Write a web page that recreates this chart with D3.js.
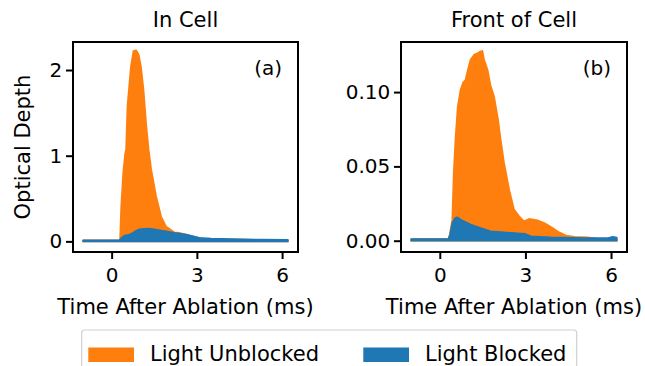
<html>
  <head>
    <meta charset="utf-8">
    <title>Optical Depth</title>
    <script src="https://d3js.org/d3.v7.min.js" charset="utf-8"></script>
    <style>
      body { margin: 0; background: #fff; }
      text { font-family: "DejaVu Sans", sans-serif; fill: #000; }
    </style>
  </head>
  <body>
    <script>
      // (a) In Cell - times in ms, optical depth
      var timeUnblockedA = [-1.0, 0.0, 0.28, 0.30, 0.34, 0.41, 0.48, 0.51, 0.56, 0.68, 0.77, 0.86, 0.95, 1.03, 1.12, 1.21, 1.30, 1.39, 1.56, 1.74, 1.91, 2.21, 2.38, 2.62, 3.0, 3.2, 3.6, 4.2, 5.0, 5.6, 6.2];
      var unblockedA = [0.012, 0.012, 0.015, 0.03, 0.41, 0.80, 1.03, 1.07, 1.58, 2.04, 2.22, 2.23, 2.18, 2.04, 1.77, 1.38, 1.07, 0.84, 0.53, 0.29, 0.175, 0.105, 0.098, 0.078, 0.045, 0.03, 0.025, 0.022, 0.018, 0.016, 0.014];
      var timeBlockedA = [-1.0, 0.0, 0.28, 0.35, 0.45, 0.60, 0.74, 0.85, 0.98, 1.15, 1.33, 1.60, 1.91, 2.20, 2.62, 3.09, 3.50, 4.20, 5.20, 6.2];
      var blockedA = [0.01, 0.01, 0.012, 0.04, 0.066, 0.075, 0.098, 0.12, 0.14, 0.147, 0.15, 0.135, 0.117, 0.10, 0.08, 0.04, 0.032, 0.027, 0.02, 0.016];

      // (b) Front of Cell
      var timeUnblockedB = [-1.0, 0.0, 0.30, 0.35, 0.44, 0.49, 0.55, 0.63, 0.73, 0.82, 0.90, 1.00, 1.08, 1.20, 1.32, 1.43, 1.47, 1.49, 1.55, 1.67, 1.78, 1.90, 2.04, 2.13, 2.25, 2.43, 2.60, 2.78, 2.95, 3.13, 3.42, 3.66, 3.95, 4.18, 4.42, 4.72, 5.18, 5.65, 6.2];
      var unblockedB = [0.001, 0.001, 0.001, 0.004, 0.014, 0.0455, 0.068, 0.090, 0.1016, 0.1065, 0.108, 0.116, 0.1218, 0.125, 0.126, 0.1274, 0.1262, 0.1278, 0.1218, 0.115, 0.104, 0.097, 0.0814, 0.068, 0.0523, 0.0343, 0.0209, 0.0164, 0.013, 0.0146, 0.0137, 0.0119, 0.0085, 0.0056, 0.0034, 0.0025, 0.0022, 0.0011, 0.001];
      var timeBlockedB = [-1.0, 0.0, 0.30, 0.36, 0.44, 0.53, 0.61, 0.79, 1.08, 1.43, 1.78, 2.25, 2.84, 3.0, 3.19, 3.89, 5.07, 5.9, 6.06, 6.2];
      var blockedB = [0.001, 0.001, 0.001, 0.004, 0.012, 0.015, 0.0157, 0.0135, 0.0108, 0.0085, 0.0063, 0.0056, 0.0047, 0.0045, 0.0029, 0.0022, 0.0018, 0.0018, 0.0025, 0.002];

      var titles = ["In Cell", "Front of Cell"];
      var panelLabels = ["(a)", "(b)"];
      var xTicks = [0, 3, 6];
      var yTicksA = [0, 1, 2];
      var yTicksB = [0, 0.05, 0.10];
      var legendNames = ["Light Unblocked", "Light Blocked"];

      var colors = ["#ff7f0e", "#1f77b4"];
      var width = 645, height = 366;

      var svg = d3.select("body").append("svg")
        .attr("width", width)
        .attr("height", height);

      function zip(ts, vs) {
        return ts.map(function(t, i) { return [t, vs[i]]; });
      }

      var panels = [
        { left: 73, right: 298, yDomain: [-0.124, 2.327], yTicks: yTicksA, fmt: d3.format("d"),
          series: [zip(timeUnblockedA, unblockedA), zip(timeBlockedA, blockedA)] },
        { left: 401, right: 627, yDomain: [-0.0076, 0.1337], yTicks: yTicksB, fmt: d3.format(".2f"),
          series: [zip(timeUnblockedB, unblockedB), zip(timeBlockedB, blockedB)] }
      ];
      var plotTop = 42, plotBottom = 252;

      panels.forEach(function(p, k) {
        var x = d3.scaleLinear().domain([-1.36, 6.56]).range([p.left, p.right]);
        var y = d3.scaleLinear().domain(p.yDomain).range([plotBottom, plotTop]);

        var area = d3.area()
          .x(function(d) { return x(d[0]); })
          .y0(y(0))
          .y1(function(d) { return y(d[1]); });

        p.series.forEach(function(s, i) {
          svg.append("path")
            .datum(s)
            .attr("d", area)
            .attr("fill", colors[i])
            .attr("stroke", colors[i])
            .attr("stroke-width", 1.8)
            .attr("stroke-linejoin", "round");
        });

        // frame
        svg.append("rect")
          .attr("x", p.left).attr("y", plotTop)
          .attr("width", p.right - p.left).attr("height", plotBottom - plotTop)
          .attr("fill", "none").attr("stroke", "#000").attr("stroke-width", 2);

        var gx = svg.append("g")
          .attr("transform", "translate(0," + plotBottom + ")")
          .call(d3.axisBottom(x).tickValues(xTicks).tickSize(7).tickFormat(d3.format("d")));
        gx.select(".domain").remove();
        gx.selectAll("line").attr("stroke-width", 2);
        gx.selectAll("text").attr("dy", null).attr("y", 29.7)
          .style("font-size", "20px").style("font-family", "DejaVu Sans");

        var gy = svg.append("g")
          .attr("transform", "translate(" + p.left + ",0)")
          .call(d3.axisLeft(y).tickValues(p.yTicks).tickSize(7).tickPadding(3.7).tickFormat(p.fmt));
        gy.select(".domain").remove();
        gy.selectAll("line").attr("stroke-width", 2);
        gy.selectAll("text").style("font-size", "20px").style("font-family", "DejaVu Sans");

        var cx = (p.left + p.right) / 2;
        svg.append("text")
          .attr("x", cx).attr("y", 26.5)
          .attr("text-anchor", "middle")
          .style("font-size", "21px")
          .text(titles[k]);

        svg.append("text")
          .attr("x", cx).attr("y", 314)
          .attr("text-anchor", "middle")
          .style("font-size", "21px")
          .text("Time After Ablation (ms)");

        svg.append("text")
          .attr("x", p.right - 16).attr("y", 75)
          .attr("text-anchor", "end")
          .style("font-size", "20px")
          .text(panelLabels[k]);
      });

      svg.append("text")
        .attr("transform", "translate(30," + (plotTop + plotBottom) / 2 + ") rotate(-90)")
        .attr("text-anchor", "middle")
        .style("font-size", "21px")
        .text("Optical Depth");

      // legend sits at the bottom edge
      var legend = svg.append("g");
      legend.append("rect")
        .attr("x", 81.7).attr("y", 330)
        .attr("width", 495).attr("height", 60)
        .attr("rx", 3)
        .attr("fill", "#fff").attr("stroke", "#d0d0d0").attr("stroke-width", 1.2);

      var legendX = [88.3, 363.3];
      legendNames.forEach(function(name, i) {
        legend.append("rect")
          .attr("x", legendX[i]).attr("y", 347.5)
          .attr("width", 45.7).attr("height", 14.5)
          .attr("fill", colors[i]);
        legend.append("text")
          .attr("x", legendX[i] + 61.7).attr("y", 360.8)
          .style("font-size", "21px")
          .text(name);
      });
    </script>
  </body>
</html>
